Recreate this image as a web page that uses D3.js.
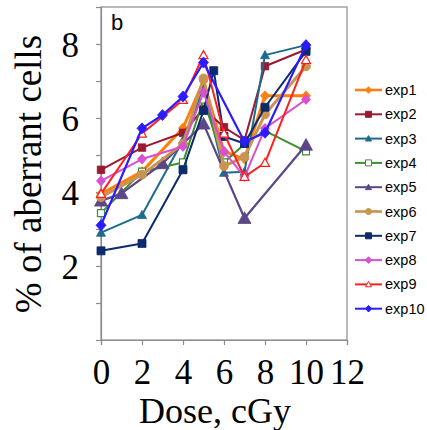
<!DOCTYPE html>
<html>
<head>
<meta charset="utf-8">
<script src="https://cdn.jsdelivr.net/npm/d3@7"></script>
<style>
  html, body { margin: 0; padding: 0; background: #fff; }
  svg { display: block; }
</style>
</head>
<body>
<svg id="chart" width="427" height="430"></svg>
<script>
// dose grid (cGy); null = no measurement at that dose
const doses = [0, 1, 2, 3, 4, 5, 5.5, 6, 7, 8, 10];
const seriesNames = ["exp1", "exp2", "exp3", "exp4", "exp5", "exp6", "exp7", "exp8", "exp9", "exp10"];

const exp1  = [3.95, null, 4.55, null, 5.73, 7.0, null, 5.1, 4.89, 6.6, 6.6];
const exp2  = [4.6, null, 5.2, null, 5.6, 6.25, null, 5.75, 5.4, 7.4, 7.85];
const exp3  = [2.9, null, 3.38, null, 5.4, 6.8, null, 4.52, 4.55, 7.7, 7.97];
const exp4  = [3.43, null, 4.55, null, 4.8, 6.5, null, 4.8, 5.3, 5.65, 5.1];
const exp5  = [3.76, 3.96, null, 4.77, null, 5.84, null, null, 3.29, null, 5.27];
const exp6  = [3.86, null, 4.47, null, 5.3, 7.07, null, 4.7, 4.95, 6.1, 7.4];
const exp7  = [2.41, null, 2.61, null, 4.6, 6.2, 7.28, 5.5, 5.31, 6.29, 7.8];
const exp8  = [4.3, null, 4.89, null, 5.23, 6.69, null, 5.09, 4.41, 5.72, 6.5];
const exp9  = [3.95, null, 5.58, null, 6.49, 7.7, null, 5.58, 4.41, 4.79, 7.57];
const exp10 = [3.1, null, 5.72, 6.08, 6.58, 7.5, null, null, 5.36, 5.6, 7.97];

const allValues = [exp1, exp2, exp3, exp4, exp5, exp6, exp7, exp8, exp9, exp10];

const xTicks = [0, 2, 4, 6, 8, 10, 12];
const yTicks = [2, 4, 6, 8];

// styles per series
const styles = [
  { color: "#ff7f10", shape: "diamond", size: 9, width: 3, hollow: false },
  { color: "#9b1a30", shape: "square", size: 7.5, width: 2, hollow: false },
  { color: "#1c6b8f", shape: "triangle", size: 9, width: 2, hollow: false },
  { color: "#3d8f2f", shape: "square", size: 7, width: 2, hollow: true },
  { color: "#5b4687", shape: "triangle", size: 13, width: 2.2, hollow: false },
  { color: "#c99450", shape: "circle", size: 9, width: 3, hollow: false },
  { color: "#0c2a6e", shape: "square", size: 8, width: 2, hollow: false },
  { color: "#d94ed2", shape: "diamond", size: 9, width: 2, hollow: false },
  { color: "#ff1f1f", shape: "triangle", size: 9, width: 2, hollow: true },
  { color: "#2a1cff", shape: "diamond", size: 10, width: 2.2, hollow: false }
];

const svg = d3.select("#chart");
const plotLeft = 101, plotRight = 347, plotTop = 7, plotBottom = 340;

const x = d3.scaleLinear().domain([0, 12]).range([plotLeft, plotRight]);
const y = d3.scaleLinear().domain([0, 9]).range([plotBottom, plotTop]);

// 标记形状
function markerPath(shape, s) {
  const h = s / 2;
  if (shape === "diamond") {
    return `M0,${-h * 1.1}L${h},0L0,${h * 1.1}L${-h},0Z`;
  }
  if (shape === "square") {
    return `M${-h},${-h}H${h}V${h}H${-h}Z`;
  }
  if (shape === "triangle") {
    return `M0,${-h}L${h},${h * 0.8}L${-h},${h * 0.8}Z`;
  }
  return d3.symbol(d3.symbolCircle, Math.PI * h * h)();
}

// plot frame
svg.append("rect")
  .attr("x", plotLeft).attr("y", plotTop)
  .attr("width", plotRight - plotLeft).attr("height", plotBottom - plotTop)
  .attr("fill", "none").attr("stroke", "#8c8c8c").attr("stroke-width", 1.2);

// axes
const xAxis = d3.axisBottom(x).tickValues(xTicks).tickSize(5).tickFormat(d3.format("d"));
const gx = svg.append("g").attr("transform", `translate(0,${plotBottom})`).call(xAxis);
gx.select(".domain").attr("stroke", "#8c8c8c").attr("stroke-width", 1.2);
gx.selectAll(".tick line").attr("stroke", "#8c8c8c").attr("stroke-width", 1.2);
gx.selectAll(".tick text")
  .attr("y", 0).attr("dy", 44)
  .attr("font-family", "'Liberation Serif', 'Times New Roman', serif")
  .attr("font-size", 35).attr("fill", "#000");

const yAxis = d3.axisLeft(y).ticks(9).tickSize(5).tickFormat(d => yTicks.includes(d) ? d : "");
const gy = svg.append("g").attr("transform", `translate(${plotLeft},0)`).call(yAxis);
gy.select(".domain").attr("stroke", "#8c8c8c").attr("stroke-width", 1.2);
gy.selectAll(".tick line").attr("stroke", "#8c8c8c").attr("stroke-width", 1.2);
gy.selectAll(".tick text")
  .attr("x", -22).attr("dy", "0.35em")
  .attr("font-family", "'Liberation Serif', 'Times New Roman', serif")
  .attr("font-size", 35).attr("fill", "#000");

// axis titles
svg.append("text")
  .attr("x", 215).attr("y", 423)
  .attr("text-anchor", "middle")
  .attr("font-family", "'Liberation Serif', 'Times New Roman', serif")
  .attr("font-size", 36)
  .text("Dose, cGy");

svg.append("text")
  .attr("transform", "translate(41,174) rotate(-90)")
  .attr("text-anchor", "middle")
  .attr("font-family", "'Liberation Serif', 'Times New Roman', serif")
  .attr("font-size", 37)
  .text("% of aberrant cells");

svg.append("text")
  .attr("x", 111).attr("y", 30)
  .attr("font-family", "'Liberation Sans', Arial, sans-serif")
  .attr("font-size", 22)
  .text("b");

// series
const line = d3.line().x(d => x(d.dose)).y(d => y(d.value));
const seriesLayer = svg.append("g");

seriesNames.forEach((name, i) => {
  const st = styles[i];
  const pts = doses.map((dose, j) => ({ dose, value: allValues[i][j] }))
    .filter(p => p.value != null);
  const g = seriesLayer.append("g").attr("class", name);
  g.append("path")
    .attr("d", line(pts))
    .attr("fill", "none")
    .attr("stroke", st.color)
    .attr("stroke-width", st.width)
    .attr("stroke-linejoin", "round");
  g.selectAll("path.mk")
    .data(pts)
    .enter()
    .append("path")
    .attr("class", "mk")
    .attr("transform", d => `translate(${x(d.dose)},${y(d.value)})`)
    .attr("d", markerPath(st.shape, st.size))
    .attr("fill", st.hollow ? "#fff" : st.color)
    .attr("stroke", st.color)
    .attr("stroke-width", st.hollow ? 1.2 : 0.8);
});

// legend
const legend = svg.append("g").attr("transform", "translate(355,90)");
seriesNames.forEach((name, i) => {
  const st = styles[i];
  const row = legend.append("g").attr("transform", `translate(0,${i * 24.3})`);
  row.append("line")
    .attr("x1", 0).attr("x2", 27)
    .attr("stroke", st.color).attr("stroke-width", st.width > 2.5 ? 2.6 : 2);
  row.append("path")
    .attr("transform", "translate(13.5,0)")
    .attr("d", markerPath(st.shape, 6))
    .attr("fill", st.hollow ? "#fff" : st.color)
    .attr("stroke", st.color)
    .attr("stroke-width", 1);
  row.append("text")
    .attr("x", 30).attr("dy", "0.35em")
    .attr("font-family", "'Liberation Sans', Arial, sans-serif")
    .attr("font-size", 14.5)
    .text(name);
});
</script>
</body>
</html>
